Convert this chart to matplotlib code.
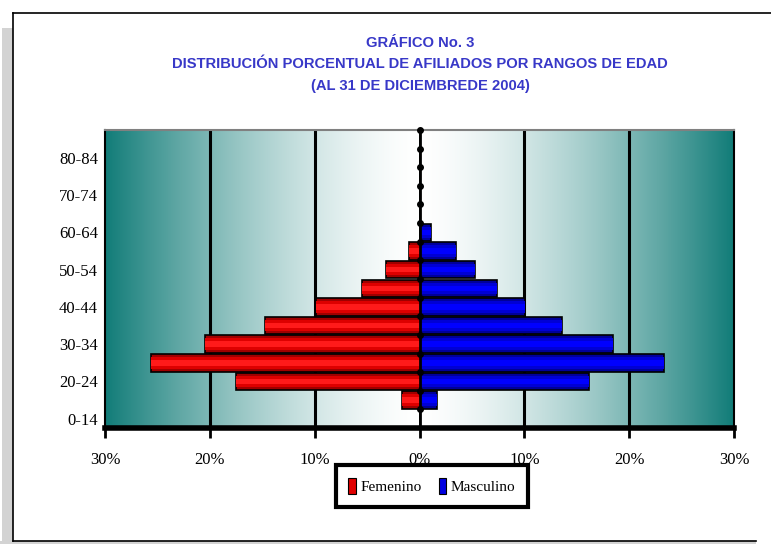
import numpy as np
import matplotlib.pyplot as plt
from matplotlib.patches import Rectangle, Patch
from matplotlib.lines import Line2D
from matplotlib.colors import to_rgb

age_groups = ["0-14", "15-19", "20-24", "25-29", "30-34", "35-39", "40-44", "45-49",
              "50-54", "55-59", "60-64", "65-69", "70-74", "75-79", "80-84", "85+"]
femenino = [0.0, 1.7, 17.5, 25.6, 20.5, 14.7, 9.9, 5.5, 3.2, 1.0, 0.0, 0.0, 0.0, 0.0, 0.0, 0.0]
masculino = [0.0, 1.7, 16.2, 23.3, 18.5, 13.6, 10.1, 7.4, 5.3, 3.5, 1.1, 0.0, 0.0, 0.0, 0.0, 0.0]
x_ticks = [-30, -20, -10, 0, 10, 20, 30]
x_tick_labels = ["30%", "20%", "10%", "0%", "10%", "20%", "30%"]
title_lines = ["GRÁFICO No. 3",
               "DISTRIBUCIÓN PORCENTUAL DE AFILIADOS POR RANGOS DE EDAD",
               "(AL 31 DE DICIEMBREDE 2004)"]

W, H = 771, 544
fig = plt.figure(figsize=(W / 100, H / 100), dpi=100)
fig.patch.set_facecolor("white")

# outer chart frame with grey shadow
fig.add_artist(Rectangle((2 / W, 0), 11 / W, (H - 28) / H, transform=fig.transFigure,
                         facecolor="#d3d3d3", edgecolor="none", zorder=0))
fig.add_artist(Rectangle((0, 0), 756 / W, 3 / H, transform=fig.transFigure,
                         facecolor="#d3d3d3", edgecolor="none", zorder=0))
fig.add_artist(Line2D([13 / W, 1], [1 - 13 / H] * 2, color="black", lw=1.2))
fig.add_artist(Line2D([13 / W] * 2, [1 - 13 / H, 3 / H], color="black", lw=1.2))
fig.add_artist(Line2D([13 / W, 756 / W], [3 / H] * 2, color="black", lw=1.2))

ax = fig.add_axes([105 / W, (H - 428) / H, 629 / W, 298 / H])
n = len(age_groups)
y = np.arange(n)

# horizontal teal -> white -> teal gradient
xs = np.linspace(-30, 30, 800)
f = (np.abs(xs) / 30) ** 1.5
teal = np.array(to_rgb("#117c78"))
grad = (1 - f)[:, None] * np.ones(3) + f[:, None] * teal
ax.imshow(grad[None, :, :], extent=[-30, 30, -0.5, n - 0.5], aspect="auto", zorder=0)

for xv in [-20, -10, 10, 20]:
    ax.axvline(xv, color="black", lw=2.2, zorder=1)

fem = -np.array(femenino)
mas = np.array(masculino)
layers_red = [(0.94, "#a00000"), (0.62, "#dd0000"), (0.3, "#ff1a1a")]
layers_blue = [(0.94, "#00009a"), (0.62, "#0000d5"), (0.3, "#0000ff")]
for i, (h, c) in enumerate(layers_red):
    ax.barh(y, fem, height=h, color=c, zorder=2 + i,
            edgecolor="black" if i == 0 else "none", linewidth=1.2)
for i, (h, c) in enumerate(layers_blue):
    ax.barh(y, mas, height=h, color=c, zorder=2 + i,
            edgecolor="black" if i == 0 else "none", linewidth=1.2)

# category axis in the middle
ax.axvline(0, color="black", lw=2, zorder=6)
ax.plot(np.zeros(n), y + 0.5, "o", color="black", ms=4, zorder=7, clip_on=False)

ax.set_xlim(-30, 30)
ax.set_ylim(-0.5, n - 0.5)
ax.set_xticks(x_ticks)
ax.set_xticklabels(x_tick_labels, family="Liberation Serif", fontsize=12)
ax.tick_params(axis="x", length=7, width=2, direction="out", pad=10)
ax.set_yticks(y[::2])
ax.set_yticklabels(age_groups[::2], family="Liberation Serif", fontsize=12)
ax.tick_params(axis="y", length=0, pad=5)

ax.spines["bottom"].set_linewidth(4)
ax.spines["left"].set_linewidth(1.5)
ax.spines["right"].set_linewidth(1.5)
ax.spines["top"].set_color("#808080")
ax.spines["top"].set_linewidth(1.5)

title_y = [43, 64, 86]
for txt, ty in zip(title_lines, title_y):
    fig.text(420 / W, 1 - ty / H, txt, ha="center", va="center", color="#3838c8",
             fontweight="bold", family="Liberation Sans", fontsize=10.6)

handles = [Patch(facecolor="#e00000", edgecolor="black", lw=0.8),
           Patch(facecolor="#0000e0", edgecolor="black", lw=0.8)]
leg = fig.legend(handles, ["Femenino", "Masculino"], loc="center",
                 bbox_to_anchor=(432 / W, 1 - 486 / H), ncol=2, frameon=True,
                 fancybox=False, edgecolor="black", framealpha=1,
                 prop={"family": "Liberation Serif", "size": 11},
                 handlelength=0.5, handleheight=1.3, handletextpad=0.3,
                 columnspacing=1.1, borderpad=0.8)
leg.get_frame().set_linewidth(3)

fig.savefig("out.png", dpi=100)
